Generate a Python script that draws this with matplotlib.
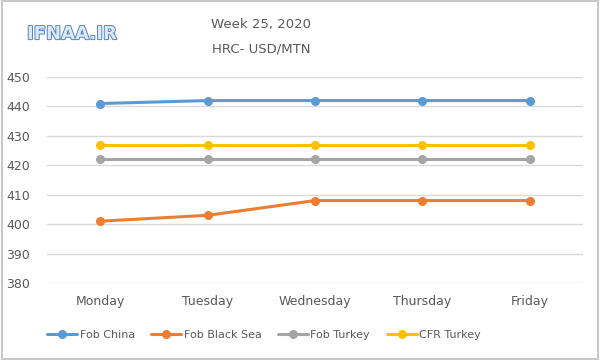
import numpy as np
import matplotlib.pyplot as plt
import matplotlib.patheffects as pe

days = ["Monday", "Tuesday", "Wednesday", "Thursday", "Friday"]
fob_china = [441, 442, 442, 442, 442]
fob_black_sea = [401, 403, 408, 408, 408]
fob_turkey = [422, 422, 422, 422, 422]
cfr_turkey = [427, 427, 427, 427, 427]

series = [
    ("Fob China", fob_china, "#5b9bd5"),
    ("Fob Black Sea", fob_black_sea, "#ed7d31"),
    ("Fob Turkey", fob_turkey, "#a5a5a5"),
    ("CFR Turkey", cfr_turkey, "#ffc000"),
]

fig = plt.figure(figsize=(6, 3.6), dpi=100)
ax = fig.add_axes([0.078, 0.214, 0.894, 0.572])

x = np.arange(len(days))
for name, vals, col in series:
    ax.plot(x, vals, color=col, lw=2.2, marker="o", ms=5.5, label=name,
            solid_capstyle="round")

ax.set_xlim(-0.5, len(days) - 0.5)
ax.set_ylim(380, 450)
ax.set_yticks(range(380, 451, 10))
ax.set_xticks(x)
ax.set_xticklabels(days)
ax.grid(axis="y", color="#d9d9d9", lw=1)
ax.set_axisbelow(True)
for s in ax.spines.values():
    s.set_visible(False)
ax.tick_params(length=0, labelsize=9, colors="#595959")
ax.tick_params(axis="x", pad=9)
ax.tick_params(axis="y", pad=12)

fig.text(0.435, 0.932, "Week 25, 2020", ha="center", va="center", fontsize=9.5, color="#595959")
fig.text(0.435, 0.865, "HRC- USD/MTN", ha="center", va="center", fontsize=9.5, color="#595959")
fig.text(0.045, 0.905, "IFNAA.IR", ha="left", va="center", fontsize=13, color="#dbe8f7",
         fontweight="bold",
         path_effects=[pe.withStroke(linewidth=1.3, foreground="#4a7ebb")])

fig.legend(loc="center", bbox_to_anchor=(0.44, 0.07), ncol=4, frameon=False,
           fontsize=8, labelcolor="#595959", handlelength=2.7, columnspacing=1.5,
           handletextpad=0.2)

fig.patches.append(plt.Rectangle((0.003, 0.004), 0.994, 0.992, transform=fig.transFigure,
                                 fill=False, ec="#c8c8c8", lw=1.5))

fig.savefig("out.png", dpi=100, facecolor="white")
